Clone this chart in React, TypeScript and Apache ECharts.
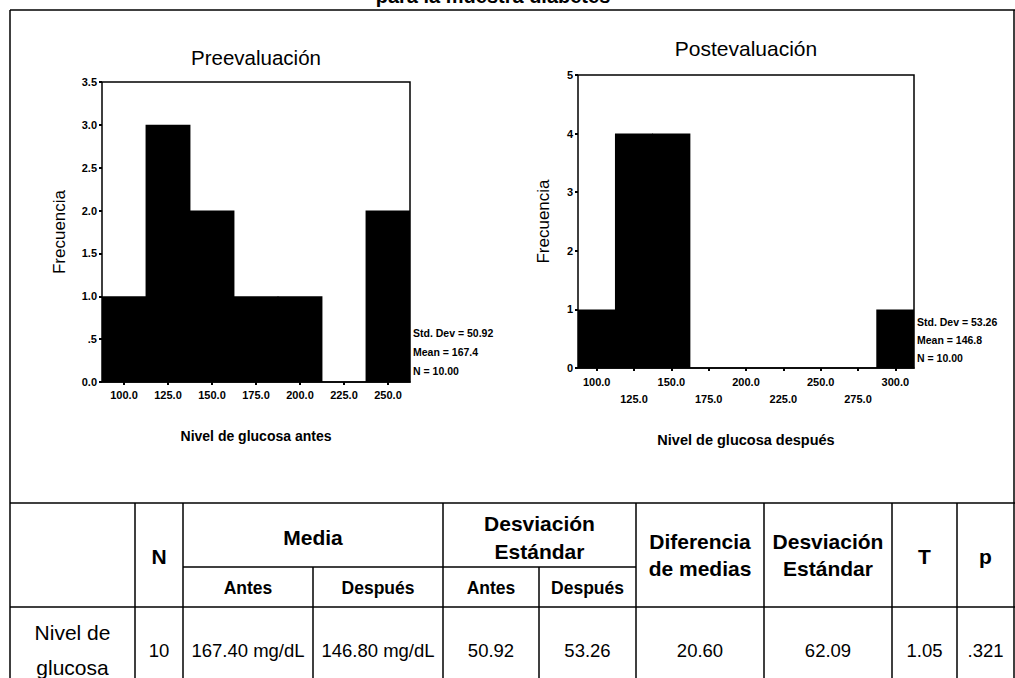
import React, { useEffect, useRef } from "react";
import * as echarts from "echarts";

// ---------- data ----------
const preBins = ["100.0", "125.0", "150.0", "175.0", "200.0", "225.0", "250.0"];
const preFreq = [1, 3, 2, 1, 1, 0, 2];
const postBins = ["100.0", "125.0", "150.0", "175.0", "200.0", "225.0", "250.0", "275.0", "300.0"];
const postFreq = [1, 4, 4, 0, 0, 0, 0, 0, 1];
const preStats = ["Std. Dev = 50.92", "Mean = 167.4", "N = 10.00"];
const postStats = ["Std. Dev = 53.26", "Mean = 146.8", "N = 10.00"];
const chartTitles = ["Preevaluación", "Postevaluación"];
const xNames = ["Nivel de glucosa antes", "Nivel de glucosa después"];
const yName = "Frecuencia";
const pageTitle = "para la muestra diabetes";

// table
const rowLabel = ["Nivel de", "glucosa"];
const headN = "N";
const headMedia = "Media";
const headSD = ["Desviación", "Estándar"];
const subHeads = ["Antes", "Después", "Antes", "Después"];
const headDiff = ["Diferencia", "de medias"];
const headSD2 = ["Desviación", "Estándar"];
const headT = "T";
const headP = "p";
const nValue = "10";
const mediaValues = ["167.40 mg/dL", "146.80 mg/dL"];
const sdValues = ["50.92", "53.26"];
const diffMean = "20.60";
const diffSD = "62.09";
const tValue = "1.05";
const pValue = ".321";

const FONT = "'Liberation Sans', Arial, Helvetica, sans-serif";

function txt(text: string, x: number, y: number, size: number, weight: string = "normal", align: string = "center") {
  return {
    type: "text",
    x,
    y,
    silent: true,
    style: {
      text,
      fill: "#000",
      fontSize: size,
      fontWeight: weight,
      fontFamily: FONT,
      align,
      verticalAlign: "middle",
    },
  };
}

function ln(x1: number, y1: number, x2: number, y2: number, w = 1.5) {
  return {
    type: "line",
    silent: true,
    shape: { x1, y1, x2, y2 },
    style: { stroke: "#000", lineWidth: w },
  };
}

export default function App() {
  const ref = useRef<HTMLDivElement>(null);

  useEffect(() => {
    if (!ref.current) return;
    const chart = echarts.init(ref.current, null, { renderer: "svg" });

    // table geometry
    const cx = [10, 135, 183, 313, 443, 539, 636, 764, 892, 957, 1014];
    const yTop = 503, ySub = 567, yHead = 607, yBot = 700;
    const mid = (a: number, b: number) => (a + b) / 2;

    const tableLines: any[] = [
      ln(10, 10, 1015, 10, 1.5),
      ln(10, 10, 10, 678, 1.5),
      ln(1014, 10, 1014, 678, 1.5),
      ln(10, yTop, 1015, yTop, 1.5),
      ln(cx[2], ySub, cx[6], ySub, 1.5),
      ln(10, yHead, 1015, yHead, 1.5),
      ln(cx[1], yTop, cx[1], yBot),
      ln(cx[2], yTop, cx[2], yBot),
      ln(cx[3], ySub, cx[3], yBot),
      ln(cx[4], yTop, cx[4], yBot),
      ln(cx[5], ySub, cx[5], yBot),
      ln(cx[6], yTop, cx[6], yBot),
      ln(cx[7], yTop, cx[7], yBot),
      ln(cx[8], yTop, cx[8], yBot),
      ln(cx[9], yTop, cx[9], yBot),
    ];

    const H = 21, S = 17.5, D = 18.5;
    const dataY = 650;
    const tableTexts: any[] = [
      txt(headN, mid(cx[1], cx[2]), 556, H, "bold"),
      txt(headMedia, mid(cx[2], cx[4]), 537, H, "bold"),
      txt(headSD[0], mid(cx[4], cx[6]), 523, H, "bold"),
      txt(headSD[1], mid(cx[4], cx[6]), 551, H, "bold"),
      txt(subHeads[0], mid(cx[2], cx[3]), 588, S, "bold"),
      txt(subHeads[1], mid(cx[3], cx[4]), 588, S, "bold"),
      txt(subHeads[2], mid(cx[4], cx[5]), 588, S, "bold"),
      txt(subHeads[3], mid(cx[5], cx[6]), 588, S, "bold"),
      txt(headDiff[0], mid(cx[6], cx[7]), 541, H, "bold"),
      txt(headDiff[1], mid(cx[6], cx[7]), 568, H, "bold"),
      txt(headSD2[0], mid(cx[7], cx[8]), 541, H, "bold"),
      txt(headSD2[1], mid(cx[7], cx[8]), 568, H, "bold"),
      txt(headT, mid(cx[8], cx[9]), 556, H, "bold"),
      txt(headP, mid(cx[9], cx[10]), 556, H, "bold"),
      txt(rowLabel[0], mid(cx[0], cx[1]), 632, 21),
      txt(rowLabel[1], mid(cx[0], cx[1]), 667, 21),
      txt(nValue, mid(cx[1], cx[2]), dataY, D),
      txt(mediaValues[0], mid(cx[2], cx[3]), dataY, D),
      txt(mediaValues[1], mid(cx[3], cx[4]), dataY, D),
      txt(sdValues[0], mid(cx[4], cx[5]), dataY, D),
      txt(sdValues[1], mid(cx[5], cx[6]), dataY, D),
      txt(diffMean, mid(cx[6], cx[7]), dataY, D),
      txt(diffSD, mid(cx[7], cx[8]), dataY, D),
      txt(tValue, mid(cx[8], cx[9]), dataY, D),
      txt(pValue, mid(cx[9], cx[10]), dataY, D),
    ];

    const statTexts: any[] = [
      ...preStats.map((s, i) => txt(s, 413, 333 + i * 19, 10.5, "bold", "left")),
      ...postStats.map((s, i) => txt(s, 917, 322 + i * 18, 10.5, "bold", "left")),
    ];

    const titleTexts: any[] = [
      txt(chartTitles[0], 256, 57, 20.5),
      txt(chartTitles[1], 746, 48, 21),
      {
        type: "text",
        x: 493,
        y: 6,
        silent: true,
        style: {
          text: pageTitle,
          fill: "#000",
          fontSize: 20,
          fontWeight: "bold",
          fontFamily: FONT,
          align: "center",
          verticalAlign: "bottom",
        },
      },
    ];

    const axisCommon = {
      axisLine: { lineStyle: { color: "#000", width: 1.5 } },
      axisTick: { show: true, length: 3, lineStyle: { color: "#000", width: 2 } },
      splitLine: { show: false },
      splitArea: { show: false },
    };

    const barStyle = { color: "#000", borderWidth: 0 };

    chart.setOption({
      animation: false,
      backgroundColor: "#fff",
      grid: [
        { left: 102, top: 82, width: 308, height: 300, show: true, borderColor: "#000", borderWidth: 1.5, backgroundColor: "transparent" },
        { left: 578, top: 75, width: 336, height: 293, show: true, borderColor: "#000", borderWidth: 1.5, backgroundColor: "transparent" },
      ],
      xAxis: [
        {
          type: "category",
          gridIndex: 0,
          data: preBins,
          ...axisCommon,
          axisTick: { show: true, alignWithLabel: true, length: 3, lineStyle: { color: "#000", width: 2 } },
          axisLabel: { color: "#000", fontSize: 11, fontWeight: "bold", fontFamily: FONT, margin: 7, interval: 0 },
          name: xNames[0],
          nameLocation: "middle",
          nameGap: 47,
          nameTextStyle: { color: "#000", fontSize: 14, fontWeight: "bold", fontFamily: FONT },
        },
        {
          type: "category",
          gridIndex: 1,
          data: postBins,
          ...axisCommon,
          axisTick: { show: true, alignWithLabel: true, length: 3, lineStyle: { color: "#000", width: 2 } },
          axisLabel: {
            color: "#000",
            fontSize: 11,
            fontWeight: "bold",
            fontFamily: FONT,
            margin: 5,
            interval: 0,
            lineHeight: 17,
            formatter: (v: string, i: number) => (i % 2 === 1 ? "\n" + v : v + "\n"),
          },
          name: xNames[1],
          nameLocation: "middle",
          nameGap: 64,
          nameTextStyle: { color: "#000", fontSize: 14.5, fontWeight: "bold", fontFamily: FONT },
        },
      ],
      yAxis: [
        {
          type: "value",
          gridIndex: 0,
          min: 0,
          max: 3.5,
          interval: 0.5,
          ...axisCommon,
          axisLabel: {
            color: "#000",
            fontSize: 11,
            fontWeight: "bold",
            fontFamily: FONT,
            margin: 5,
            formatter: (v: number) => (v === 0 ? "0.0" : v === 0.5 ? ".5" : v.toFixed(1)),
          },
          name: yName,
          nameLocation: "middle",
          nameRotate: 90,
          nameGap: 34,
          nameTextStyle: { color: "#000", fontSize: 17, fontFamily: FONT },
        },
        {
          type: "value",
          gridIndex: 1,
          min: 0,
          max: 5,
          interval: 1,
          ...axisCommon,
          axisLabel: { color: "#000", fontSize: 11, fontWeight: "bold", fontFamily: FONT, margin: 5 },
          name: yName,
          nameLocation: "middle",
          nameRotate: 90,
          nameGap: 26,
          nameTextStyle: { color: "#000", fontSize: 17, fontFamily: FONT },
        },
      ],
      series: [
        {
          type: "bar",
          xAxisIndex: 0,
          yAxisIndex: 0,
          data: preFreq,
          barWidth: "102%",
          itemStyle: barStyle,
          silent: true,
        },
        {
          type: "bar",
          xAxisIndex: 1,
          yAxisIndex: 1,
          data: postFreq,
          barWidth: "102%",
          itemStyle: barStyle,
          silent: true,
        },
      ],
      graphic: [...tableLines, ...tableTexts, ...statTexts, ...titleTexts],
    });

    return () => chart.dispose();
  }, []);

  return (
    <div
      ref={ref}
      style={{ position: "absolute", left: 0, top: 0, width: 1015, height: 678, background: "#fff" }}
    />
  );
}
